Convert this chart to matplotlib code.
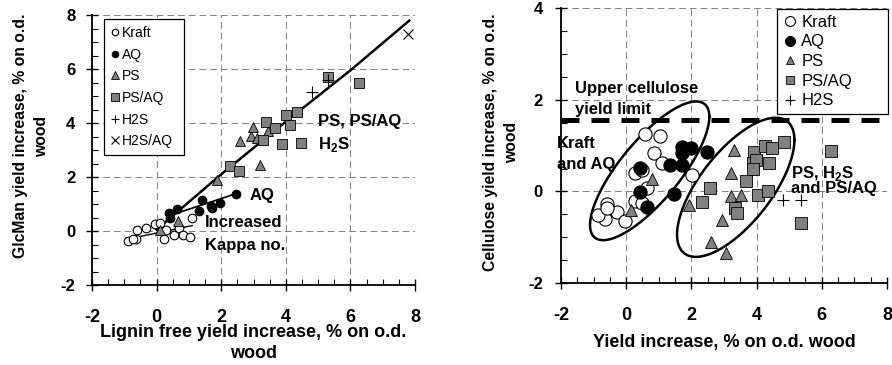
import numpy as np
import matplotlib
matplotlib.use("Agg")
import matplotlib.pyplot as plt

# ---------------- data ----------------
# Left panel: lignin-free yield increase vs GlcMan yield increase
L_kraft_x = [-0.87, -0.63, -0.60, -0.32, -0.06, 0.10, 0.24, 0.53, 0.68, 0.81, 1.04, 1.11, 0.30, -0.72]
L_kraft_y = [-0.36, -0.31, 0.02, 0.12, 0.25, 0.30, -0.31, -0.16, 0.10, -0.16, -0.23, 0.47, 0.05, -0.28]
L_aq_x = [0.37, 0.40, 0.63, 1.30, 1.40, 1.68, 1.71, 1.97, 2.46]
L_aq_y = [0.65, 0.47, 0.81, 0.75, 1.15, 0.93, 0.84, 1.05, 1.36]
L_ps_x = [0.10, 0.67, 1.87, 2.59, 2.92, 2.98, 3.21, 3.45, 3.10]
L_ps_y = [0.05, 0.38, 1.90, 3.35, 3.52, 3.86, 2.44, 3.70, 3.45]
L_psaq_x = [2.28, 2.56, 3.29, 3.38, 3.67, 3.88, 4.01, 4.13, 4.34, 4.46, 5.32, 6.27]
L_psaq_y = [2.42, 2.23, 3.37, 4.02, 3.80, 3.22, 4.30, 3.93, 4.40, 3.25, 5.72, 5.49]
L_h2s_x = [4.80, 5.32]
L_h2s_y = [5.16, 5.59]
L_h2saq_x = [7.79]
L_h2saq_y = [7.28]
# trend lines
L_fit_all_x = [0.0, 2.0, 4.0, 6.0, 7.82]
L_fit_all_y = [0.05, 2.10, 4.05, 5.95, 7.79]
L_fit_aq_x = [0.35, 2.45]
L_fit_aq_y = [0.55, 1.38]
L_fit_kraft_x = [-0.90, 1.10]
L_fit_kraft_y = [-0.30, 0.20]

# Right panel: yield increase vs cellulose yield increase
R_kraft_x = [0.585, 1.05, 0.84, 1.10, 2.02, 0.28, 0.48, 0.64, 0.28, 0.48, -0.59, -0.65, -0.85, -0.29, -0.03, -0.59]
R_kraft_y = [1.25, 1.22, 0.83, 0.62, 0.36, 0.40, 0.47, 0.07, -0.20, -0.26, -0.28, -0.60, -0.51, -0.44, -0.65, -0.36]
R_aq_x = [0.43, 0.43, 0.64, 1.35, 1.71, 1.71, 1.71, 2.00, 2.48, 1.46]
R_aq_y = [0.51, -0.02, -0.34, 0.57, 0.98, 0.84, 0.57, 0.95, 0.86, -0.06]
R_ps_x = [0.79, 0.14, 1.92, 3.30, 3.20, 3.20, 3.51, 2.94, 2.61, 3.05, 3.35]
R_ps_y = [0.27, -0.41, -0.29, 0.91, 0.40, -0.11, -0.07, -0.62, -1.11, -1.35, -0.33]
R_psaq_x = [2.58, 2.33, 3.35, 3.41, 3.69, 3.92, 3.90, 3.99, 4.25, 4.48, 4.38, 4.04, 4.35, 4.84, 6.28, 5.35, 3.90]
R_psaq_y = [0.07, -0.24, -0.36, -0.47, 0.22, 0.87, 0.62, 0.69, 1.00, 0.95, 0.63, -0.07, 0.01, 1.07, 0.89, -0.69, 0.50]
R_h2s_x = [4.82, 5.35]
R_h2s_y = [-0.18, -0.18]
upper_limit = 1.55
# ellipses: centre x, centre y, half-extent x, half-extent y, correlation
ell_kraft_aq = (0.72, 0.45, 1.83, 1.515, 0.78)
ell_ps = (3.36, 0.09, 1.80, 1.52, 0.68)

xticks = [-2, 0, 2, 4, 6, 8]
L_yticks = [-2, 0, 2, 4, 6, 8]
R_yticks = [-2, 0, 2, 4]

# ---------------- style ----------------
plt.rcParams['font.family'] = ['Liberation Sans', 'DejaVu Sans']
plt.rcParams['axes.unicode_minus'] = False
plt.rcParams['mathtext.fontset'] = 'custom'
plt.rcParams['mathtext.rm'] = 'Liberation Sans'
plt.rcParams['mathtext.bf'] = 'Liberation Sans:bold'

GRAY = '#808080'

fig = plt.figure(figsize=(8.92, 3.65), dpi=100)
axL = fig.add_axes([92/892, 80/365, 323/892, 270/365])
axR = fig.add_axes([561/892, 82/365, 326/892, 274.7/365])


def style_axes(ax, yticks, xpad, ypad):
    for s in ['top', 'right']:
        ax.spines[s].set_visible(False)
    for s in ['left', 'bottom']:
        ax.spines[s].set_linewidth(1.3)
    ax.set_xlim(-2, 8)
    ax.set_ylim(yticks[0], yticks[-1])
    ax.set_xticks(xticks)
    ax.set_yticks(yticks)
    ax.set_xticks(np.arange(-2, 8.01, 0.5), minor=True)
    ax.set_yticks(np.arange(yticks[0], yticks[-1] + 0.01, 0.5), minor=True)
    ax.tick_params(which='major', direction='inout', length=8, width=1.0)
    ax.tick_params(which='minor', direction='in', length=4, width=0.8)
    ax.tick_params(axis='x', which='major', pad=xpad)
    ax.tick_params(axis='y', which='major', pad=ypad)
    ax.grid(True, which='major', color='#808080', linestyle=(0, (7, 4)), linewidth=0.7)
    ax.set_axisbelow(True)
    for lab in ax.get_xticklabels():
        lab.set_fontweight('bold')
        lab.set_fontsize(13)
    for lab in ax.get_yticklabels():
        lab.set_fontweight('bold')
        lab.set_fontsize(12)


style_axes(axL, L_yticks, 13, 8)
style_axes(axR, R_yticks, 13, 9)

# ---------------- left panel ----------------
ms = 6.2
axL.plot(L_fit_all_x, L_fit_all_y, color='black', lw=1.8, zorder=2)
axL.plot(L_fit_aq_x, L_fit_aq_y, color='black', lw=1.2, zorder=2)
axL.plot(L_fit_kraft_x, L_fit_kraft_y, color='black', lw=1.0, zorder=2)
axL.plot(L_kraft_x, L_kraft_y, 'o', ms=ms, mfc='white', mec='black', mew=0.8, label='Kraft', zorder=3)
axL.plot(L_aq_x, L_aq_y, 'o', ms=ms, mfc='black', mec='black', mew=0.8, label='AQ', zorder=3)
axL.plot(L_ps_x, L_ps_y, '^', ms=7.5, mfc=GRAY, mec='black', mew=0.6, label='PS', zorder=3)
axL.plot(L_psaq_x, L_psaq_y, 's', ms=7.2, mfc=GRAY, mec='black', mew=0.6, label='PS/AQ', zorder=3)
axL.plot(L_h2s_x, L_h2s_y, '+', ms=8, mec='black', mew=0.8, label='H2S', zorder=3)
axL.plot(L_h2saq_x, L_h2saq_y, 'x', ms=7, mec='black', mew=0.8, label='H2S/AQ', zorder=3)

legL = axL.legend(loc='upper left', bbox_to_anchor=(0.036, 0.5, 0.25, 0.485), mode='expand',
                  borderaxespad=0, fontsize=10, markerscale=0.75, handlelength=0.6,
                  handletextpad=0.2, labelspacing=0.55, borderpad=0.5, fancybox=False,
                  framealpha=1, edgecolor='black')
legL.get_frame().set_linewidth(0.9)

bold = dict(fontweight='bold', fontsize=12)
axL.text(5.0, 4.04, 'PS, PS/AQ', va='center', ha='left', **bold)
axL.text(5.0, 3.19, r'H$_\mathbf{2}$S', va='center', ha='left', **bold)
axL.text(2.89, 1.33, 'AQ', va='center', ha='left', **bold)
axL.text(1.5, 0.33, 'Increased', va='center', ha='left', **bold)
axL.text(1.5, -0.52, 'Kappa no.', va='center', ha='left', **bold)

axL.set_ylabel('GlcMan yield increase, % on o.d.\nwood', fontweight='bold', fontsize=11.3,
               linespacing=1.5)
axL.yaxis.set_label_coords(-0.133, 0.552)
axL.set_xlabel('Lignin free yield increase, % on o.d.\nwood', fontweight='bold', fontsize=13,
               linespacing=1.3)
axL.xaxis.set_label_coords(0.5, -0.145)

# ---------------- right panel ----------------
msR = 9.5
axR.axhline(upper_limit, color='black', lw=3.6, dashes=(3.6, 2.4), zorder=2)
t = np.linspace(0, 2 * np.pi, 300)
for cx, cy, rx, ry, rho in (ell_kraft_aq, ell_ps):
    ex = cx + rx * np.cos(t)
    ey = cy + ry * (rho * np.cos(t) + np.sqrt(1 - rho ** 2) * np.sin(t))
    axR.plot(ex, ey, color='black', lw=1.8, zorder=2)

axR.plot(R_kraft_x, R_kraft_y, 'o', ms=msR, mfc='white', mec='black', mew=0.8, label='Kraft', zorder=3)
axR.plot(R_aq_x, R_aq_y, 'o', ms=msR, mfc='black', mec='black', mew=0.8, label='AQ', zorder=3)
axR.plot(R_ps_x, R_ps_y, '^', ms=8.5, mfc=GRAY, mec='black', mew=0.6, label='PS', zorder=3)
axR.plot(R_psaq_x, R_psaq_y, 's', ms=8, mfc=GRAY, mec='black', mew=0.6, label='PS/AQ', zorder=3)
axR.plot(R_h2s_x, R_h2s_y, '+', ms=9, mec='black', mew=0.8, label='H2S', zorder=3)

legR = axR.legend(loc='upper left', bbox_to_anchor=(0.663, 0.5, 0.340, 0.498), mode='expand',
                  borderaxespad=0, fontsize=12, markerscale=0.75, handlelength=0.8,
                  handletextpad=0.3, labelspacing=0.28, borderpad=0.35, fancybox=False,
                  framealpha=1, edgecolor='black')
legR.get_frame().set_linewidth(0.9)

axR.text(-1.57, 2.25, 'Upper cellulose', va='center', ha='left', **bold)
axR.text(-1.57, 1.78, 'yield limit', va='center', ha='left', **bold)
axR.text(-2.13, 1.05, 'Kraft', va='center', ha='left', **bold)
axR.text(-2.13, 0.58, 'and AQ', va='center', ha='left', **bold)
axR.text(5.07, 0.40, r'PS, H$_\mathbf{2}$S', va='center', ha='left', **bold)
axR.text(5.07, 0.055, 'and PS/AQ', va='center', ha='left', **bold)

axR.set_ylabel('Cellulose yield increase, % on o.d.\nwood', fontweight='bold', fontsize=11.3,
               linespacing=1.5)
axR.yaxis.set_label_coords(-0.129, 0.513)
axR.set_xlabel('Yield increase, % on o.d. wood', fontweight='bold', fontsize=13)
axR.xaxis.set_label_coords(0.5, -0.185)

fig.savefig('out.png', dpi=100)
